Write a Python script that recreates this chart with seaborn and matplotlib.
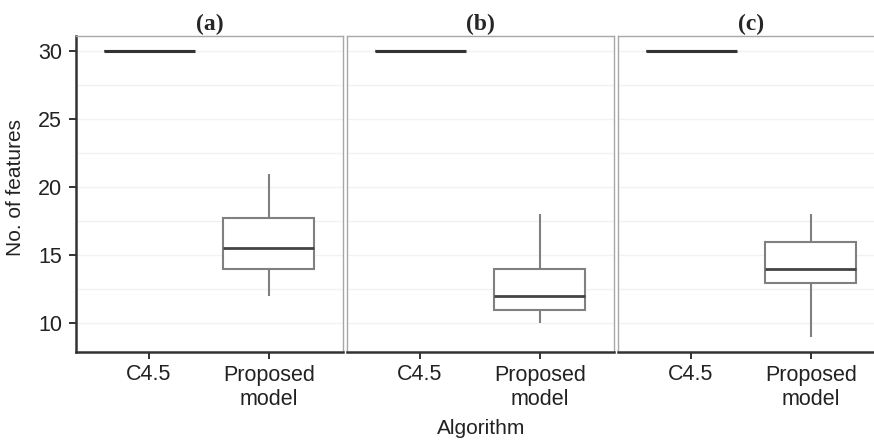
import numpy as np
import pandas as pd
import matplotlib
matplotlib.use("Agg")
import matplotlib.pyplot as plt
import seaborn as sns

# Data (five values per box give min, Q1, median, Q3, max)
panels = ["(a)", "(b)", "(c)"]
algorithms = ["C4.5", "Proposed\nmodel"]
c45_values = [30, 30, 30, 30, 30]
proposed_a = [12, 14, 15.5, 17.75, 21]
proposed_b = [10, 11, 12, 14, 18]
proposed_c = [9, 13, 14, 16, 18]
y_ticks = [10, 15, 20, 25, 30]

rows = []
for panel, prop in zip(panels, [proposed_a, proposed_b, proposed_c]):
    for v in c45_values:
        rows.append({"panel": panel, "Algorithm": algorithms[0], "features": v})
    for v in prop:
        rows.append({"panel": panel, "Algorithm": algorithms[1], "features": v})
df = pd.DataFrame(rows)

sns.set_style("white")
plt.rcParams['font.family'] = ['Liberation Sans', 'DejaVu Sans']

fig = plt.figure(figsize=(8.74, 4.42), dpi=100)
W, H = 874, 442
left0, step, pw = 76, 271, 267
top, bottom = 36, 352

axes = []
for i, panel in enumerate(panels):
    ax = fig.add_axes([(left0 + i * step) / W, (H - bottom) / H, pw / W, (bottom - top) / H])
    axes.append(ax)
    sub = df[df["panel"] == panel]
    sns.boxplot(data=sub, x="Algorithm", y="features", order=algorithms, ax=ax,
                width=0.76, color="white", linecolor="#808080", linewidth=1.5,
                fliersize=0, whis=1.5, showcaps=False,
                medianprops=dict(color="#444444", linewidth=2.0))
    ax.set_xlim(-0.61, 1.62)
    ax.set_ylim(7.9, 31.1)
    ax.set_yticks(y_ticks)
    ax.set_yticks([12.5, 17.5, 22.5, 27.5], minor=True)
    ax.grid(True, which="both", axis="y", color="#f2f2f2", linewidth=1.0)
    ax.set_axisbelow(True)
    ax.set_xlabel("")
    ax.set_ylabel("")
    for s in ax.spines.values():
        s.set_color("#a8a8a8")
        s.set_linewidth(1.0)
    ax.spines["bottom"].set_color("#333333")
    ax.spines["bottom"].set_linewidth(1.8)
    ax.tick_params(axis="x", bottom=True, length=5, width=1.4, color="#333333",
                   labelsize=15.5, labelcolor="#222222", pad=4)
    if i == 0:
        ax.spines["left"].set_color("#333333")
        ax.spines["left"].set_linewidth(1.8)
        ax.tick_params(axis="y", left=True, length=5, width=1.4, color="#333333",
                       labelsize=15.5, labelcolor="#222222", pad=5)
        ax.tick_params(axis="y", which="minor", left=False)
    else:
        ax.tick_params(axis="y", which="both", left=False, labelleft=False)
    ax.set_title(panel, family=["Liberation Serif", "DejaVu Serif"], fontweight="bold",
                 fontsize=17, pad=4)

# C4.5 box is degenerate (all values 30); draw its line darker like the reference
for ax in axes:
    for ln in ax.lines:
        yd = ln.get_ydata()
        if len(yd) and np.allclose(yd, 30):
            ln.set_color("#333333")
            ln.set_linewidth(2.2)

fig.text(481 / W, 1 - 429 / H, "Algorithm",
         ha="center", va="center", fontsize=15, color="#222222")
fig.text(16 / W, 1 - 187 / H, "No. of features", rotation=90, ha="center", va="center",
         fontsize=15, color="#222222")

fig.savefig("out.png", dpi=100)
